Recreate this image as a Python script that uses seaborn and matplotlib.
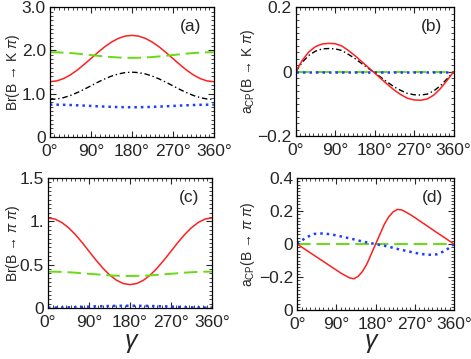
import numpy as np
import pandas as pd
import matplotlib
matplotlib.use("Agg")
import matplotlib.pyplot as plt
import matplotlib.transforms as mtransforms
import seaborn as sns
from matplotlib.ticker import MultipleLocator, FixedLocator, FixedFormatter

sns.set_theme(style="ticks")
plt.rcParams['font.family'] = ['Liberation Sans', 'DejaVu Sans']
plt.rcParams['mathtext.fontset'] = 'custom'
plt.rcParams['mathtext.rm'] = 'Liberation Sans'
plt.rcParams['mathtext.it'] = 'Liberation Sans:italic'
plt.rcParams['mathtext.sf'] = 'Liberation Sans'

# ---- data (gamma in degrees) ----
gamma = [0, 15, 30, 45, 60, 75, 90, 105, 120, 135, 150, 165, 180,
         195, 210, 225, 240, 255, 270, 285, 300, 315, 330, 345, 360]

# (a) Br(B -> K pi)
a_red   = [1.28, 1.298, 1.352, 1.437, 1.548, 1.677, 1.815, 1.953, 2.083, 2.193, 2.278, 2.332, 2.35,
           2.332, 2.278, 2.193, 2.083, 1.953, 1.815, 1.677, 1.548, 1.437, 1.352, 1.298, 1.28]
a_green = [1.96, 1.958, 1.951, 1.941, 1.928, 1.912, 1.895, 1.878, 1.863, 1.849, 1.839, 1.832, 1.83,
           1.832, 1.839, 1.849, 1.863, 1.878, 1.895, 1.912, 1.928, 1.941, 1.951, 1.958, 1.96]
a_black = [0.87, 0.881, 0.912, 0.962, 1.028, 1.103, 1.185, 1.267, 1.343, 1.408, 1.458, 1.489, 1.50,
           1.489, 1.458, 1.408, 1.343, 1.267, 1.185, 1.103, 1.028, 0.962, 0.912, 0.881, 0.87]
a_blue  = [0.75, 0.749, 0.746, 0.741, 0.735, 0.728, 0.72, 0.712, 0.705, 0.699, 0.694, 0.691, 0.69,
           0.691, 0.694, 0.699, 0.705, 0.712, 0.72, 0.728, 0.735, 0.741, 0.746, 0.749, 0.75]

# (b) aCP(B -> K pi)
b_red   = [0, 0.036, 0.062, 0.078, 0.086, 0.088, 0.087, 0.080, 0.066, 0.050, 0.032, 0.014, -0.004,
           -0.022, -0.040, -0.057, -0.071, -0.082, -0.087, -0.088, -0.084, -0.072, -0.052, -0.027, 0]
b_black = [0, 0.030, 0.051, 0.064, 0.071, 0.072, 0.071, 0.066, 0.054, 0.041, 0.026, 0.011, -0.003,
           -0.018, -0.033, -0.047, -0.058, -0.067, -0.071, -0.072, -0.069, -0.059, -0.043, -0.022, 0]
b_green = [0.0] * 25
b_blue  = [-0.001] * 25

# (c) Br(B -> pi pi)
c_red   = [1.04, 1.027, 0.988, 0.927, 0.848, 0.755, 0.655, 0.555, 0.463, 0.383, 0.322, 0.283, 0.27,
           0.283, 0.322, 0.383, 0.463, 0.555, 0.655, 0.755, 0.848, 0.927, 0.988, 1.027, 1.04]
c_green = [0.42, 0.419, 0.417, 0.413, 0.408, 0.401, 0.395, 0.389, 0.383, 0.377, 0.373, 0.371, 0.37,
           0.371, 0.373, 0.377, 0.383, 0.389, 0.395, 0.401, 0.408, 0.413, 0.417, 0.419, 0.42]
c_blue  = [0.004, 0.005, 0.006, 0.008, 0.010, 0.013, 0.016, 0.019, 0.021, 0.023, 0.025, 0.026, 0.026,
           0.026, 0.025, 0.023, 0.021, 0.019, 0.016, 0.013, 0.010, 0.008, 0.006, 0.005, 0.004]

# (d) aCP(B -> pi pi)
d_gamma = [0, 20, 40, 60, 80, 100, 110, 120, 130, 140, 150, 160, 170, 180,
           190, 200, 210, 220, 230, 240, 250, 260, 280, 300, 320, 340, 360]
d_red   = [0, -0.035, -0.07, -0.105, -0.14, -0.175, -0.19, -0.204, -0.21, -0.195, -0.165, -0.12, -0.06, 0,
           0.06, 0.12, 0.165, 0.195, 0.21, 0.207, 0.193, 0.178, 0.143, 0.107, 0.071, 0.036, 0]
d_blue  = [0, 0.04, 0.062, 0.065, 0.058, 0.047, 0.041, 0.035, 0.029, 0.022, 0.016, 0.01, 0.005, 0,
           -0.005, -0.01, -0.016, -0.022, -0.029, -0.035, -0.041, -0.047, -0.058, -0.065, -0.062, -0.04, 0]
d_green = [0.0] * 27

x_ticks = [0, 90, 180, 270, 360]
x_labels = ["0°", "90°", "180°", "270°", "360°"]

RED = "#ff1f1f"
GREEN = "#66dd11"
BLUE = "#1f3dff"
BLACK = "#000000"

W, H = 471, 359
fig = plt.figure(figsize=(4.71, 3.59), dpi=100)
axa = fig.add_axes([0.106, 0.618, 0.348, 0.362])
axb = fig.add_axes([0.628, 0.620, 0.335, 0.360])
axc = fig.add_axes([0.102, 0.142, 0.348, 0.362])
axd = fig.add_axes([0.631, 0.136, 0.333, 0.368])

def draw(ax, x, y, color, lw=1.1, dashes=None):
    df = pd.DataFrame({"g": x, "v": y})
    sns.lineplot(data=df, x="g", y="v", ax=ax, color=color, lw=lw)
    if dashes is not None:
        ax.lines[-1].set_dashes(dashes)

def style(ax, ylim, yticks, ylabels, ymin, label, ylab, ylab_x):
    ax.set_xlim(0, 360)
    ax.set_ylim(*ylim)
    ax.xaxis.set_major_locator(FixedLocator(x_ticks))
    ax.set_xticklabels(x_labels)
    ax.xaxis.set_minor_locator(MultipleLocator(10))
    ax.yaxis.set_major_locator(FixedLocator(yticks))
    ax.yaxis.set_major_formatter(FixedFormatter(ylabels))
    ax.yaxis.set_minor_locator(MultipleLocator(ymin))
    ax.tick_params(which="both", direction="in", top=True, right=True, labelsize=12.5)
    ax.tick_params(axis="x", pad=5)
    ax.tick_params(axis="y", pad=3)
    ax.tick_params(which="major", length=4.5, width=0.8)
    ax.tick_params(which="minor", length=2.2, width=0.6)
    for s in ax.spines.values():
        s.set_linewidth(0.9)
        s.set_color("black")
    ax.set_xlabel("")
    ax.set_ylabel(ylab, fontsize=10)
    tr = mtransforms.blended_transform_factory(fig.transFigure, ax.transAxes)
    ax.yaxis.set_label_coords(ylab_x / W, 0.5, transform=tr)
    ax.yaxis.label.set_va("center")
    ax.text(0.86, 0.85, label, transform=ax.transAxes, ha="center", va="center", fontsize=12.5)

GD = (7, 3)
BD = (4, 2, 1, 2)
DD = (1, 1.6)

# (a)
draw(axa, gamma, a_red, RED)
draw(axa, gamma, a_green, GREEN, lw=1.4, dashes=GD)
draw(axa, gamma, a_black, BLACK, lw=1.0, dashes=BD)
draw(axa, gamma, a_blue, BLUE, lw=1.8, dashes=DD)
style(axa, (0, 3.0), [0, 1, 2, 3], ["0", "1.0", "2.0", "3.0"], 0.1, "(a)",
      "Br(B \u2192 K $\\pi$)", 13)

# (b)
draw(axb, gamma, b_green, GREEN, lw=1.4, dashes=GD)
draw(axb, gamma, b_blue, BLUE, lw=1.8, dashes=DD)
draw(axb, gamma, b_black, BLACK, lw=1.0, dashes=BD)
draw(axb, gamma, b_red, RED)
style(axb, (-0.2, 0.2), [-0.2, 0, 0.2], ["\u22120.2", "0", "0.2"], 0.02, "(b)",
      "a$_{\\mathrm{CP}}$(B \u2192 K $\\pi$)", 248)

# (c)
draw(axc, gamma, c_red, RED)
draw(axc, gamma, c_green, GREEN, lw=1.4, dashes=GD)
draw(axc, gamma, c_blue, BLUE, lw=1.8, dashes=DD)
style(axc, (0, 1.5), [0, 0.5, 1.0, 1.5], ["0", "0.5", "1.", "1.5"], 0.05, "(c)",
      "Br(B \u2192 $\\pi$ $\\pi$)", 13)

# (d)
draw(axd, d_gamma, d_green, GREEN, lw=1.4, dashes=GD)
draw(axd, d_gamma, d_blue, BLUE, lw=1.8, dashes=DD)
draw(axd, d_gamma, d_red, RED)
style(axd, (-0.4, 0.4), [-0.4, -0.2, 0, 0.2, 0.4], ["0", "\u22120.2", "0", "0.2", "0.4"], 0.02, "(d)",
      "a$_{\\mathrm{CP}}$(B \u2192 $\\pi$ $\\pi$)", 248)

fig.text(0.28, 0.045, r"$\gamma$", fontsize=18, ha="center", va="center")
fig.text(0.79, 0.045, r"$\gamma$", fontsize=18, ha="center", va="center")

fig.savefig("out.png", dpi=100)
